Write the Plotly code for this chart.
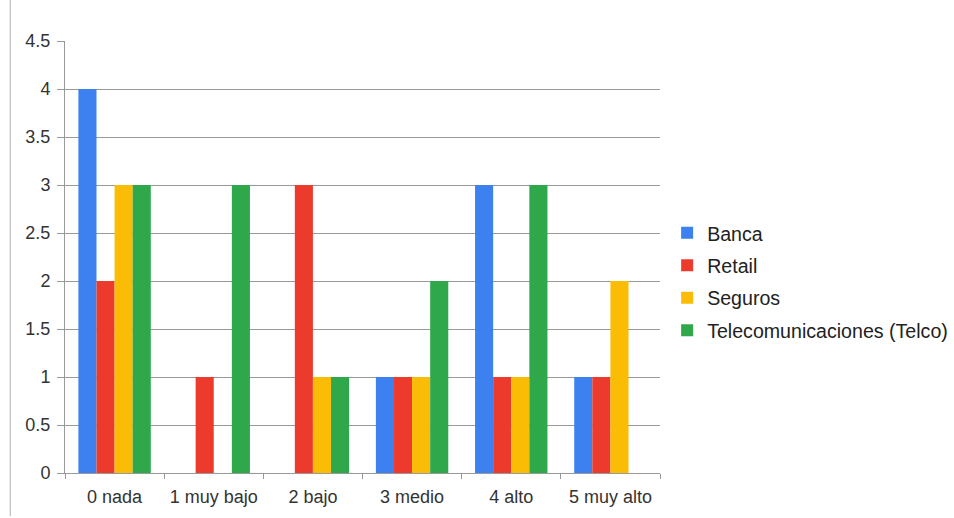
import plotly.graph_objects as go

categories = ["0 nada", "1 muy bajo", "2 bajo", "3 medio", "4 alto", "5 muy alto"]
banca = [4, 0, 0, 1, 3, 1]
retail = [2, 1, 3, 1, 1, 1]
seguros = [3, 0, 1, 1, 1, 2]
telco = [3, 3, 1, 2, 3, 0]

series = [
    ("Banca", banca, "#3d80f0"),
    ("Retail", retail, "#ec3b2c"),
    ("Seguros", seguros, "#fbbc05"),
    ("Telecomunicaciones (Telco)", telco, "#2ea84a"),
]

fig = go.Figure()
for i, (name, vals, col) in enumerate(series):
    fig.add_trace(go.Bar(x=categories, y=vals, name=name, marker_color=col,
                         marker_line_width=0, legendgroup=str(i)))

fig.update_layout(
    width=954, height=518,
    margin=dict(l=65, r=294, t=41, b=45, autoexpand=False),
    paper_bgcolor="white", plot_bgcolor="white",
    barmode="group", bargap=0.27, bargroupgap=0,
    font=dict(family="Arial, Liberation Sans, sans-serif", size=18, color="#333333"),
    legend=dict(x=1.012, y=0.443, xanchor="left", yanchor="middle",
                font=dict(size=19.6, color="#222222"), tracegroupgap=4,
                itemwidth=30, bgcolor="rgba(0,0,0,0)"),
    showlegend=True,
)
fig.update_yaxes(range=[0, 4.5], dtick=0.5, showgrid=True, gridcolor="#999999",
                 gridwidth=1, showline=True, linecolor="#999999", ticks="outside",
                 ticklen=7, tickcolor="#999999", zeroline=False,
                 tickfont=dict(size=18), ticklabelstandoff=3)
fig.update_xaxes(showline=True, linecolor="#999999", ticks="outside", ticklen=5,
                 tickcolor="#999999", tickson="boundaries", showgrid=False,
                 tickfont=dict(size=18), ticklabelstandoff=7)
fig.add_shape(type="line", xref="paper", yref="paper", x0=-0.092, x1=-0.092,
              y0=-0.1, y1=1.1, line=dict(color="#b0b0b0", width=1))

fig.write_html("out.html")
